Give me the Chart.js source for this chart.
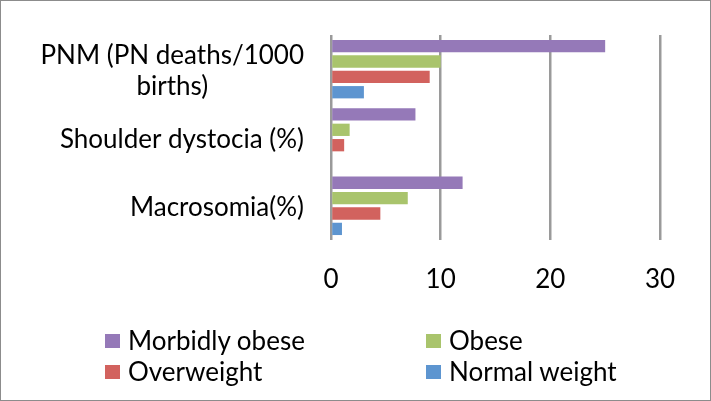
<!DOCTYPE html>
<html>
<head>
<meta charset="utf-8">
<script src="https://cdn.jsdelivr.net/npm/chart.js@4"></script>
<style>
  body { margin: 0; background: #fff; }
  #wrap { position: relative; width: 711px; height: 401px; overflow: hidden; }
  #chart { position: absolute; left: 0; top: 0; }
  #frame { position: absolute; left: 0; top: 0; width: 711px; height: 401px; box-sizing: border-box; border: 1px solid #8c8c8c; pointer-events: none; }
  .legend-item { position: absolute; font-family: Lato, sans-serif; font-size: 26px; color: #000; line-height: 26px; white-space: nowrap; }
  .legend-item span.box { position: absolute; left: -23px; top: 7px; width: 15px; height: 14px; }
</style>
</head>
<body>
<div id="wrap">
  <canvas id="chart" width="711" height="401"></canvas>
  <div id="legend"></div>
  <div id="frame"></div>
</div>
<script>
const categories = [['PNM (PN deaths/1000', 'births)'], ['Shoulder dystocia (%)'], ['Macrosomia(%)']];
const seriesNames = ['Morbidly obese', 'Obese', 'Overweight', 'Normal weight'];
const morbidlyObese = [25, 7.7, 12];
const obese = [10, 1.7, 7];
const overweight = [9, 1.2, 4.5];
const normalWeight = [3, 0, 1];
const xTicks = [0, 10, 20, 30];

const colors = ['#9579b8', '#a9c46c', '#d2625e', '#5d95d0'];
const fontFamily = 'Lato, sans-serif';

const values = [morbidlyObese, obese, overweight, normalWeight];
const datasets = seriesNames.map((name, i) => ({
    label: name,
    data: values[i],
    backgroundColor: colors[i],
    borderWidth: 0,
    categoryPercentage: 0.9,
    barPercentage: 0.8
}));

// category labels: each block right-aligned, lines centred within the block
const categoryLabels = {
    id: 'categoryLabels',
    afterDraw(chart) {
        const ctx = chart.ctx;
        const yScale = chart.scales.y;
        ctx.save();
        ctx.font = '26px ' + fontFamily;
        ctx.fillStyle = '#000';
        ctx.textAlign = 'center';
        ctx.textBaseline = 'middle';
        const rightEdge = 304;
        const lineHeight = 31;
        categories.forEach((lines, i) => {
            const w = Math.max(...lines.map(l => ctx.measureText(l).width));
            const cx = rightEdge - w / 2;
            const cy = yScale.getPixelForValue(i) + 2;
            const startY = cy - (lines.length - 1) * lineHeight / 2;
            lines.forEach((line, j) => {
                ctx.fillText(line, cx, startY + j * lineHeight);
            });
        });
        ctx.restore();
    }
};

const ctx = document.getElementById('chart').getContext('2d');
const chart = new Chart(ctx, {
    type: 'bar',
    data: {
        labels: categories.map(l => l.join(' ')),
        datasets: datasets
    },
    options: {
        indexAxis: 'y',
        responsive: false,
        animation: false,
        layout: { padding: { top: 35, right: 51, left: 0, bottom: 0 } },
        plugins: {
            legend: { display: false },
            tooltip: { enabled: false }
        },
        scales: {
            x: {
                min: xTicks[0],
                max: xTicks[xTicks.length - 1],
                afterBuildTicks: (scale) => { scale.ticks = xTicks.map(v => ({ value: v })); },
                afterFit: (scale) => { scale.height = 161; },
                grid: { color: '#9a9a9a', lineWidth: 2.5, drawTicks: false },
                border: { display: false },
                ticks: {
                    padding: 24,
                    color: '#000',
                    font: { family: fontFamily, size: 26 }
                }
            },
            y: {
                afterFit: (scale) => { scale.width = 331; },
                grid: { display: false },
                border: { display: false },
                ticks: { display: false }
            }
        }
    },
    plugins: [categoryLabels]
});

// legend in two columns, built from the series
const legendPos = [[128, 327], [449, 327], [128, 358], [449, 358]];
const legend = document.getElementById('legend');
seriesNames.forEach((name, i) => {
    const item = document.createElement('div');
    item.className = 'legend-item';
    item.style.left = legendPos[i][0] + 'px';
    item.style.top = legendPos[i][1] + 'px';
    item.innerHTML = `<span class="box" style="background:${colors[i]}"></span>${name}`;
    legend.appendChild(item);
});
</script>
</body>
</html>
